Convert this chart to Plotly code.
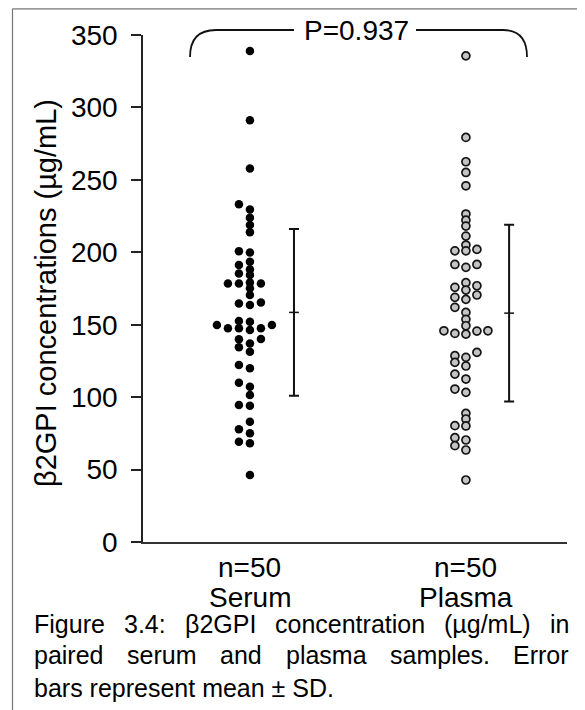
import numpy as np
import plotly.graph_objects as go

# ---------------- data ----------------
groups = ["Serum", "Plasma"]
serum = [338.9, 291.2, 257.9, 233.1, 229.6, 223.8, 218.8, 213.9, 200.8, 199.9,
         191.2, 193.4, 188.2, 184.3, 185.4, 178.5, 175.1, 179.2, 178.5, 178.5,
         170.5, 164.7, 163.6, 165.4, 149.8, 147.5, 147.5, 152.0, 146.3, 147.5,
         149.8, 152.5, 139.9, 137.1, 131.3, 140.1, 134.4, 122.2, 119.9, 107.2,
         109.9, 101.4, 94.5, 94.1, 83.0, 75.0, 77.8, 69.2, 68.1, 46.2]
plasma = [335.6, 279.3, 262.5, 255.1, 245.9, 226.4, 222.2, 218.1, 211.2, 205.0,
          201.0, 201.0, 202.0, 191.6, 189.6, 191.6, 179.0, 173.9, 176.9, 175.8,
          167.5, 170.5, 168.9, 162.0, 158.5, 153.7, 149.3, 143.5, 145.8, 145.6,
          144.0, 145.8, 130.9, 128.6, 127.5, 124.0, 121.5, 115.9, 112.5, 105.6,
          103.3, 88.8, 84.9, 80.1, 80.3, 72.0, 70.4, 66.5, 63.5, 42.8]
means = [158.5, 158.0]
sds = [57.5, 61.0]
p_text = "P=0.937"
y_ticks = [0, 50, 100, 150, 200, 250, 300, 350]
caption_lines = [
    "Figure 3.4: \u03b22GPI concentration (\u00b5g/mL) in",
    "paired serum and plasma samples. Error",
    "bars represent mean \u00b1 SD.",
]

# ---------------- layout geometry ----------------
OFF = 8                      # default page body margin
PAGE_L, PAGE_R, PAGE_T, PAGE_B = 143, 567, 35, 542   # plot area in page pixels
W, H = 585 - OFF, 710 - OFF
L, T = PAGE_L - OFF, PAGE_T - OFF
R, B = W - (PAGE_R - OFF), H - (PAGE_B - OFF)
PW, PH = PAGE_R - PAGE_L, PAGE_B - PAGE_T
YMAX = 350
XR = [-0.495, 1.468]
FONT = "Liberation Sans, Arial, Helvetica, sans-serif"


def pxx(px):
    return (px - PAGE_L) / PW


def pxy(py):
    return (PAGE_B - py) / PH


# beeswarm layout (greedy, slot-based)
x_unit_px = PW / (XR[1] - XR[0])
step = 11 / x_unit_px
thr = 5.6 * YMAX / PH


def swarm(vals, center):
    order = np.argsort(vals)
    slots = {}
    xs = np.zeros(len(vals))
    cand = [0, -1, 1, -2, 2, -3, 3, -4, 4, -5, 5]
    for i in order:
        v = vals[i]
        for s in cand:
            if all(abs(v - u) >= thr for u in slots.get(s, [])):
                slots.setdefault(s, []).append(v)
                xs[i] = center + s * step
                break
    return xs


# Arial / Liberation Sans advance widths (per 1000 em) for justification
CW = {"F": 611, "i": 222, "g": 556, "u": 556, "r": 333, "e": 556, " ": 278,
      "3": 556, ".": 278, "4": 556, ":": 278, "\u03b2": 575, "2": 556,
      "G": 778, "P": 667, "I": 278, "c": 500, "o": 556, "n": 556, "t": 278,
      "a": 556, "(": 333, "\u00b5": 576, "/": 278, "m": 833, "L": 556,
      ")": 333, "p": 556, "d": 556, "s": 500, "l": 222, "E": 667}


def tw(s, size):
    return sum(CW.get(ch, 556) for ch in s) / 1000 * size


fig = go.Figure()

fig.add_trace(go.Scatter(
    x=swarm(np.array(serum), 0), y=serum, mode="markers",
    marker=dict(size=8.5, color="black", line=dict(width=0)),
    showlegend=False, hoverinfo="y"))
fig.add_trace(go.Scatter(
    x=swarm(np.array(plasma), 1), y=plasma, mode="markers",
    marker=dict(size=8, color="#c4c4c4", line=dict(width=1.7, color="#151515")),
    showlegend=False, hoverinfo="y"))

# error bars mean ± SD
fig.add_trace(go.Scatter(
    x=[0.204, 1.2], y=means, mode="markers",
    marker=dict(symbol="line-ew", size=7, line=dict(width=1.5, color="#111")),
    error_y=dict(type="data", array=sds, visible=True, color="#111",
                 thickness=2, width=5),
    showlegend=False, hoverinfo="y"))

fig.update_xaxes(range=XR, showline=True, linecolor="#333", linewidth=2,
                 showticklabels=False, ticks="", showgrid=False, zeroline=False,
                 fixedrange=True)
fig.update_yaxes(range=[0, YMAX], tickvals=y_ticks, showline=True,
                 linecolor="#222", linewidth=1.5, ticks="outside", ticklen=10,
                 tickwidth=1.5, tickcolor="#222", showgrid=False,
                 zeroline=False, ticklabelstandoff=8,
                 tickfont=dict(family=FONT, size=28, color="black"))

ann = []
# y-axis title
ann.append(dict(text="\u03b22GPI concentrations (\u00b5g/mL)", textangle=-90,
                x=pxx(46), y=pxy(293), xref="paper", yref="paper",
                showarrow=False, xanchor="center", yanchor="middle",
                font=dict(family=FONT, size=29, color="black")))
# group labels
for i, (g, vals) in enumerate(zip(groups, [serum, plasma])):
    ann.append(dict(text=f"n={len(vals)}", x=i, y=pxy(567), xref="x",
                    yref="paper", showarrow=False, xanchor="center",
                    yanchor="middle", font=dict(family=FONT, size=28, color="black")))
    ann.append(dict(text=g, x=i, y=pxy(597), xref="x", yref="paper",
                    showarrow=False, xanchor="center", yanchor="middle",
                    font=dict(family=FONT, size=28, color="black")))
# P value
ann.append(dict(text=p_text, x=pxx(356), y=pxy(31), xref="paper", yref="paper",
                showarrow=False, xanchor="center", yanchor="middle",
                font=dict(family=FONT, size=28, color="black")))

# caption: first two lines justified between x=32 and x=567
CAP_SIZE = 25
CAP_X0, CAP_X1 = 32, 567
line_y = [624, 655, 688]
for k, (line, yy) in enumerate(zip(caption_lines, line_y)):
    words = line.split(" ")
    if k < 2:
        widths = [tw(w, CAP_SIZE) for w in words]
        gap = (CAP_X1 - CAP_X0 - sum(widths)) / (len(words) - 1)
        x0 = CAP_X0
        for w, wd in zip(words, widths):
            ann.append(dict(text=w, x=pxx(x0), y=pxy(yy), xref="paper",
                            yref="paper", showarrow=False, xanchor="left",
                            yanchor="middle",
                            font=dict(family=FONT, size=CAP_SIZE, color="black")))
            x0 += wd + gap
    else:
        ann.append(dict(text=line, x=pxx(CAP_X0), y=pxy(yy), xref="paper",
                        yref="paper", showarrow=False, xanchor="left",
                        yanchor="middle",
                        font=dict(family=FONT, size=CAP_SIZE, color="black")))

shapes = []
# bracket
shapes.append(dict(type="path", xref="paper", yref="paper",
                   path=f"M {pxx(190)},{pxy(57)} Q {pxx(190)},{pxy(30)} {pxx(216)},{pxy(30)} L {pxx(294)},{pxy(30)}",
                   line=dict(color="#111", width=1.8)))
shapes.append(dict(type="path", xref="paper", yref="paper",
                   path=f"M {pxx(416)},{pxy(30)} L {pxx(503)},{pxy(30)} Q {pxx(527)},{pxy(30)} {pxx(527)},{pxy(57)}",
                   line=dict(color="#111", width=1.8)))
# frame of the scanned figure
shapes.append(dict(type="line", xref="paper", yref="paper", x0=pxx(12.5), x1=pxx(585),
                   y0=pxy(8.8), y1=pxy(8.8), line=dict(color="#777", width=1.2)))
shapes.append(dict(type="line", xref="paper", yref="paper", x0=pxx(12.5), x1=pxx(12.5),
                   y0=pxy(8.8), y1=pxy(710), line=dict(color="#777", width=1.2)))

fig.update_layout(width=W, height=H, margin=dict(l=L, r=R, t=T, b=B),
                  paper_bgcolor="white", plot_bgcolor="white",
                  annotations=ann, shapes=shapes, showlegend=False,
                  font=dict(family=FONT, color="black"))

fig.write_html("out.html")
